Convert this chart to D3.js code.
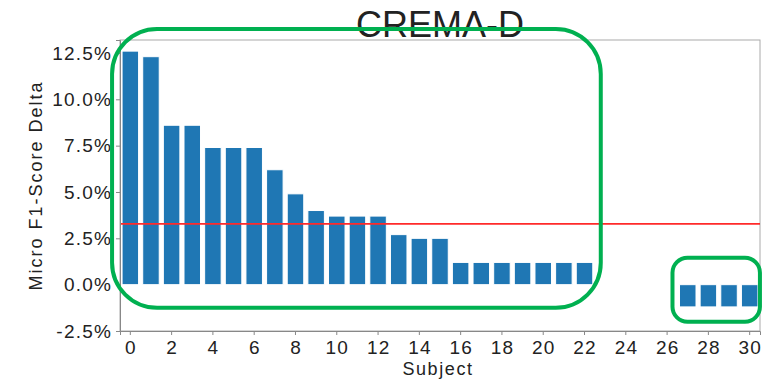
<!DOCTYPE html>
<html>
<head>
<meta charset="utf-8">
<script src="https://cdn.jsdelivr.net/npm/d3@7"></script>
<style>
  body { margin: 0; background: #fff; }
  text { font-family: "Liberation Sans", Arial, sans-serif; fill: #222; }
</style>
</head>
<body>
<svg id="chart"></svg>
<script>
// micro F1 delta per subject, in percent
var subjects = d3.range(31);
var deltas = [12.6, 12.3, 8.6, 8.6, 7.4, 7.4, 7.4, 6.2, 4.9, 4.0, 3.7, 3.7, 3.7, 2.7, 2.5, 2.5,
              1.2, 1.2, 1.2, 1.2, 1.2, 1.2, 1.2, 0, 0, 0, 0, -1.2, -1.2, -1.2, -1.2];
var yTicks = [-2.5, 0, 2.5, 5.0, 7.5, 10.0, 12.5];
var xTicks = d3.range(0, 31, 2);
var title = "CREMA-D";

const W = 766, H = 381;
const margin = {top: 40, right: 6, bottom: 50, left: 120};
var width = W - margin.left - margin.right;
var height = H - margin.top - margin.bottom;

var svg = d3.select("#chart").attr("width", W).attr("height", H)
  .append("g")
  .attr("transform", "translate(" + margin.left + "," + margin.top + ")");

var x = d3.scaleBand().domain(subjects).range([0, width]).paddingInner(0.2).paddingOuter(0.1);
var y = d3.scaleLinear().domain([-2.5, 13.2]).range([height, 0]);

// frame
svg.append("rect")
  .attr("width", width).attr("height", height)
  .attr("fill", "none").attr("stroke", "#aaa").attr("stroke-width", 1);

// bars
svg.selectAll("rect.bar").data(deltas)
  .enter().append("rect")
    .attr("class", "bar")
    .attr("x", (d, i) => x(i))
    .attr("width", x.bandwidth())
    .attr("y", d => y(Math.max(0, d)))
    .attr("height", d => Math.abs(y(d) - y(0)))
    .attr("fill", "#1f77b4")
    .attr("stroke", "#fff")
    .attr("stroke-width", 1);

// mean line
var mean = d3.mean(deltas);
svg.append("line")
  .attr("x1", 0).attr("x2", width)
  .attr("y1", y(mean)).attr("y2", y(mean))
  .attr("stroke", "#ff2a2a").attr("stroke-width", 1.8);

// axes
var xAxis = d3.axisBottom(x).tickValues(xTicks).tickSize(4).tickPadding(6);
var xG = svg.append("g").attr("transform", "translate(0," + height + ")").call(xAxis);
var yAxis = d3.axisLeft(y).tickValues(yTicks).tickSize(4).tickPadding(4)
  .tickFormat(d => d.toFixed(1) + "%");
var yG = svg.append("g").call(yAxis);

[xG, yG].forEach(function(g) {
  g.select(".domain").attr("stroke", "#888");
  g.selectAll(".tick line").attr("stroke", "#888");
  g.selectAll(".tick text")
    .attr("font-size", 19)
    .attr("letter-spacing", "1.2px")
    .attr("fill", "#222")
    .style("font-family", "'Liberation Sans', Arial, sans-serif");
});
xG.selectAll(".tick text").attr("dx", "0.6px");

// labels
svg.append("text")
  .attr("x", width / 2).attr("y", -3)
  .attr("text-anchor", "middle")
  .attr("font-size", 36)
  .text(title);

svg.append("text")
  .attr("x", width / 2 - 2).attr("y", height + 44)
  .attr("text-anchor", "middle")
  .attr("font-size", 18)
  .attr("letter-spacing", "1.6px")
  .text("Subject");

svg.append("text")
  .attr("transform", "translate(" + (-78) + "," + (height / 2) + ") rotate(-90)")
  .attr("text-anchor", "middle")
  .attr("font-size", 18)
  .attr("letter-spacing", "2px")
  .text("Micro F1-Score Delta");

// green highlight boxes around bar groups
var groups = [
  {first: 0, last: 22, padL: 10, padR: 8, top: 13.8, bottom: -1.25, r: 45},
  {first: 27, last: 30, padL: 7, padR: 2, top: 1.45, bottom: -2.0, r: 15}
];
svg.selectAll("rect.hl").data(groups)
  .enter().append("rect")
    .attr("class", "hl")
    .attr("x", d => x(d.first) - d.padL)
    .attr("width", d => x(d.last) + x.bandwidth() + d.padR - (x(d.first) - d.padL))
    .attr("y", d => y(d.top))
    .attr("height", d => y(d.bottom) - y(d.top))
    .attr("rx", d => d.r).attr("ry", d => d.r)
    .attr("fill", "none")
    .attr("stroke", "#00b050")
    .attr("stroke-width", 4);
</script>
</body>
</html>
